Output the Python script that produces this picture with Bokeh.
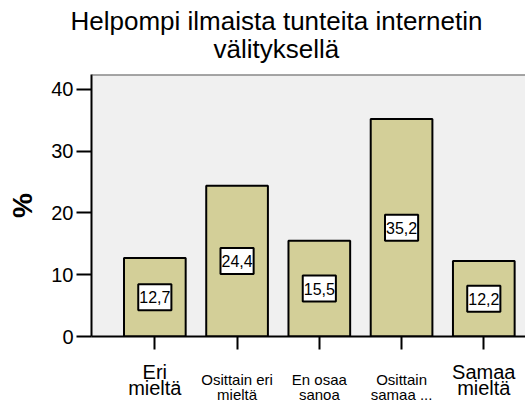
from bokeh.plotting import figure
from bokeh.models import Range1d, FixedTicker, Label, Span, LinearAxis, Title
from bokeh.embed import file_html
from bokeh.resources import INLINE

# ---- data ----
categories = ["Eri\nmieltä", "Osittain eri\nmieltä", "En osaa\nsanoa", "Osittain\nsamaa ...", "Samaa\nmieltä"]
big_label_idx = [0, 4]          # categories drawn with the larger font
small_label_idx = [1, 2, 3]
percent = [12.7, 24.4, 15.5, 35.2, 12.2]
y_ticks = [0, 10, 20, 30, 40]
title_lines = ["Helpompi ilmaista tunteita internetin", "välityksellä"]

FONT = "Liberation Sans"
BAR = "#d3cf98"

xs = list(range(len(categories)))
Y_TOP = 42.4

p = figure(width=525, height=405, output_backend="svg", toolbar_location=None,
           x_range=Range1d(-0.77, 4.507), y_range=Range1d(0, Y_TOP),
           min_border_left=91, min_border_right=0, min_border_top=74, min_border_bottom=65)
p.background_fill_color = "#f0f0f0"
p.border_fill_color = "white"
p.outline_line_color = None
p.xgrid.visible = False
p.ygrid.visible = False

p.vbar(x=xs, top=percent, width=0.75, fill_color=BAR, line_color="black", line_width=2)

# top border of the frame
p.add_layout(Span(location=Y_TOP, dimension="width", line_color="#555555", line_width=2))

# y axis
yax = p.yaxis[0]
yax.ticker = FixedTicker(ticks=y_ticks)
yax.axis_line_width = 2
yax.axis_line_color = "black"
yax.major_tick_line_width = 2
yax.major_tick_line_color = "black"
yax.major_tick_out = 15
yax.major_tick_in = 0
yax.minor_tick_line_color = None
yax.major_label_text_font = FONT
yax.major_label_text_font_size = "20px"
yax.major_label_text_color = "black"
yax.major_label_standoff = 3
yax.axis_label = "%"
yax.axis_label_text_font = FONT
yax.axis_label_text_font_size = "28px"
yax.axis_label_text_font_style = "bold"
yax.axis_label_text_color = "black"
yax.axis_label_standoff = 10

# category labels: one axis per text row (first line / second line of each label)
def line_of(i, k):
    return categories[i].split("\n")[k]

def style_label_axis(ax, size, standoff):
    ax.major_label_text_font = FONT
    ax.major_label_text_font_size = size
    ax.major_label_text_color = "black"
    ax.major_label_standoff = standoff

# main x axis: ticks + first line of the large labels
xax = p.xaxis[0]
xax.ticker = FixedTicker(ticks=xs)
xax.axis_line_width = 2
xax.axis_line_color = "black"
xax.major_tick_line_width = 2
xax.major_tick_line_color = "black"
xax.major_tick_out = 13
xax.major_tick_in = 0
xax.minor_tick_line_color = None
xax.major_label_overrides = {i: (line_of(i, 0) if i in big_label_idx else "") for i in xs}
style_label_axis(xax, "20px", 11)

def label_axis(idx, k, size, standoff):
    ax = LinearAxis(ticker=FixedTicker(ticks=idx),
                    major_label_overrides={i: line_of(i, k) for i in idx})
    ax.axis_line_color = None
    ax.major_tick_line_color = None
    ax.minor_tick_line_color = None
    ax.major_tick_out = 0
    ax.major_tick_in = 0
    style_label_axis(ax, size, standoff)
    p.add_layout(ax, "below")

label_axis(small_label_idx, 0, "15px", -15)   # small labels, first line
label_axis(small_label_idx, 1, "15px", -5)    # small labels, second line
label_axis(big_label_idx, 1, "20px", -29)     # large labels, second line

# value labels
for x, v in zip(xs, percent):
    p.add_layout(Label(x=x, y=v / 2, text=f"{v:.1f}".replace(".", ","),
                       text_align="center", text_baseline="middle",
                       text_font=FONT, text_font_size="16px", text_color="black",
                       background_fill_color="white", border_line_color="black",
                       border_line_width=2, padding=(1, 7)))

# title (two lines, nearest line added first)
p.add_layout(Title(text=title_lines[1], align="left", offset=122, standoff=22,
                   text_font=FONT, text_font_size="26px", text_font_style="normal",
                   text_color="black"), "above")
p.add_layout(Title(text=title_lines[0], align="left", offset=-21, standoff=-30,
                   text_font=FONT, text_font_size="26px", text_font_style="normal",
                   text_color="black"), "above")

open("out.html", "w").write(file_html(p, INLINE))
